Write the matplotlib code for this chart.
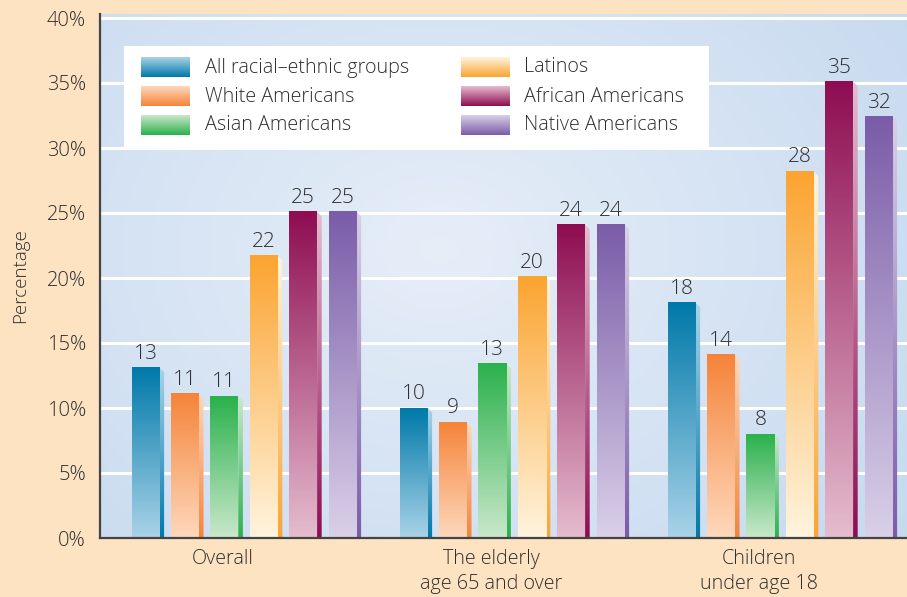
import numpy as np
import matplotlib
matplotlib.use("Agg")
import matplotlib.pyplot as plt
from matplotlib.patches import Polygon
from matplotlib.colors import to_rgb

# ---------------- data ----------------
categories = ["Overall", "The elderly\nage 65 and over", "Children\nunder age 18"]
series = ["All racial\u2013ethnic groups", "White Americans", "Asian Americans",
          "Latinos", "African Americans", "Native Americans"]
heights = [
    [13.1, 11.1, 10.9, 21.7, 25.1, 25.1],
    [10.0, 8.9, 13.4, 20.1, 24.1, 24.1],
    [18.1, 14.1, 8.0, 28.2, 35.1, 32.4],
]
value_labels = [
    ["13", "11", "11", "22", "25", "25"],
    ["10", "9", "13", "20", "24", "24"],
    ["18", "14", "8", "28", "35", "32"],
]
yticks = [0, 5, 10, 15, 20, 25, 30, 35, 40]
ytick_labels = ["0%", "5%", "10%", "15%", "20%", "25%", "30%", "35%", "40%"]

top_colors = ["#0079A9", "#F5843A", "#2BB14D", "#FBA431", "#8E0D52", "#7A5CA8"]
bot_colors = ["#A9D3E8", "#FED8BC", "#C9E8CA", "#FFF4DE", "#E5BCCE", "#DAD0E8"]

FONT = "Open Sans"
FW = 300
TXT = "#2E2E2E"

# ---------------- figure ----------------
W, H = 907, 597
fig = plt.figure(figsize=(W / 100, H / 100), dpi=100)
fig.patch.set_facecolor("#FDE3C1")

ax_l, ax_r, ax_t, ax_b = 100, 907, 14, 538
ax = fig.add_axes([ax_l / W, (H - ax_b) / H, (ax_r - ax_l) / W, (ax_b - ax_t) / H])
ppu_y = 13.0                      # pixels per percent
ymax = (ax_b - ax_t) / ppu_y
gpx = 268.0                       # pixels per group
x0 = -144.0 / gpx
x1 = x0 + (ax_r - ax_l) / gpx

# background gradient
ny, nx = 200, 300
yy, xx = np.mgrid[0:1:ny * 1j, 0:1:nx * 1j]
d = np.sqrt(((xx - 0.42) / 0.75) ** 2 + ((yy - 0.45) / 0.9) ** 2)
t = np.clip(d, 0, 1)[..., None]
c_hi = np.array(to_rgb("#E6EEF8"))
c_lo = np.array(to_rgb("#C6D9EF"))
bg = c_hi * (1 - t) + c_lo * t
ax.imshow(bg, extent=[0, 1, 0, 1], transform=ax.transAxes, aspect="auto", zorder=0)

for yv in yticks[1:]:
    ax.axhline(yv, color="white", lw=2.2, zorder=1)


def vgrad(top, bot, n=128):
    a = np.array(to_rgb(top))
    b = np.array(to_rgb(bot))
    s = np.linspace(0, 1, n)[:, None]
    return (a * (1 - s) + b * s)[:, None, :]


bw = 28.0 / gpx
step = 39.4 / gpx
side = 4.6 / gpx
slant = 4.6 / ppu_y

for gi, cat in enumerate(categories):
    for si in range(len(series)):
        h = heights[gi][si]
        cx = gi + (si - 2.5) * step
        l, r = cx - bw / 2, cx + bw / 2
        ax.imshow(vgrad(top_colors[si], bot_colors[si]), extent=[l, r, 0, h],
                  aspect="auto", zorder=3, interpolation="bilinear")
        # side face (reversed gradient)
        poly = Polygon([(r, 0), (r, h), (r + side, h - slant), (r + side, 0)],
                       closed=True, facecolor="none", edgecolor="none", zorder=2)
        ax.add_patch(poly)
        im = ax.imshow(vgrad(bot_colors[si], top_colors[si]),
                       extent=[r, r + side, 0, h], aspect="auto", zorder=2,
                       interpolation="bilinear")
        im.set_clip_path(poly)
        ax.text(cx, h + 0.3, value_labels[gi][si], ha="center", va="bottom",
                fontsize=15, color=TXT, family=FONT, fontweight=FW, zorder=5)

ax.set_xlim(x0, x1)
ax.set_ylim(0, ymax)
ax.set_yticks(yticks)
ax.set_yticklabels(ytick_labels, fontsize=14.5, color=TXT, family=FONT, fontweight=FW)
ax.set_xticks([g - 21.0 / gpx for g in range(len(categories))])
ax.set_xticklabels(categories, fontsize=14.2, color=TXT, family=FONT, fontweight=FW,
                   linespacing=1.3)
ax.tick_params(axis="x", length=0, pad=8)
ax.tick_params(axis="y", length=0, pad=10)
for s in ["top", "right"]:
    ax.spines[s].set_visible(False)
for s in ["left", "bottom"]:
    ax.spines[s].set_color("#444444")
    ax.spines[s].set_linewidth(1.6)
    ax.spines[s].set_zorder(6)
ax.set_ylabel("Percentage", fontsize=13.5, color=TXT, family=FONT, fontweight=FW,
              labelpad=13)

# ---------------- legend ----------------
lg_l, lg_r, lg_t, lg_b = 124, 709, 46, 148
lax = fig.add_axes([lg_l / W, (H - lg_b) / H, (lg_r - lg_l) / W, (lg_b - lg_t) / H])
lax.set_facecolor("white")
for s in lax.spines.values():
    s.set_visible(False)
lax.set_xticks([])
lax.set_yticks([])
rows = [67.5, 96.5, 125.5]
cols = [(141, 205), (461, 524)]
for si, name in enumerate(series):
    c = si // 3
    rr = si % 3
    sx, tx = cols[c]
    yc = rows[rr]
    lax.imshow(vgrad(top_colors[si], bot_colors[si]), extent=[sx, sx + 49, yc + 10, yc - 10],
               aspect="auto", interpolation="bilinear", origin="lower")
    lax.text(tx, yc, name, ha="left", va="center", fontsize=14.2, color=TXT,
             family=FONT, fontweight=FW)
lax.set_xlim(lg_l, lg_r)
lax.set_ylim(lg_b, lg_t)

fig.savefig("out.png", dpi=100, facecolor=fig.get_facecolor())
